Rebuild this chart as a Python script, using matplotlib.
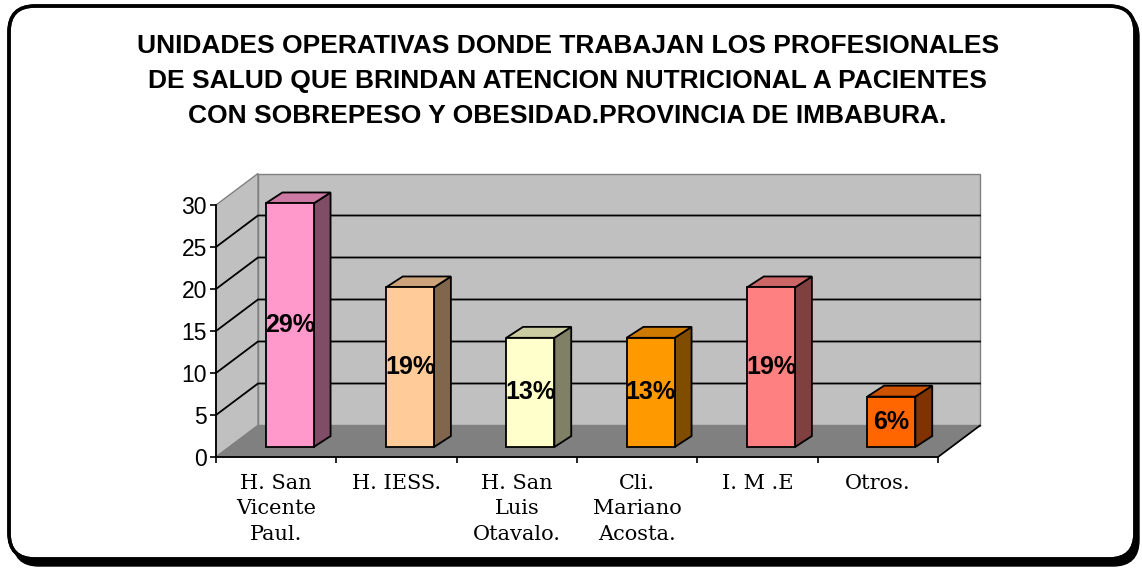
import numpy as np
import matplotlib
matplotlib.use("Agg")
import matplotlib.pyplot as plt
from matplotlib.patches import Polygon, FancyBboxPatch
from matplotlib.colors import LinearSegmentedColormap, to_rgb

titulo = ("UNIDADES OPERATIVAS DONDE TRABAJAN LOS PROFESIONALES\n"
          "DE SALUD QUE BRINDAN ATENCION NUTRICIONAL A PACIENTES\n"
          "CON SOBREPESO Y OBESIDAD.PROVINCIA DE IMBABURA.")
unidades = ["H. San\nVicente\nPaul.", "H. IESS.", "H. San\nLuis\nOtavalo.",
            "Cli.\nMariano\nAcosta.", "I. M .E", "Otros."]
valores = [29, 19, 13, 13, 19, 6]
etiquetas = ["29%", "19%", "13%", "13%", "19%", "6%"]
y_ticks = [0, 5, 10, 15, 20, 25, 30]
colores = ["#FF99CC", "#FFCC99", "#FFFFCC", "#FF9900", "#FF8080", "#FF6600"]

plt.rcParams['font.family'] = 'Liberation Sans'

# profundidad del grafico 3D (en unidades de datos)
DX, DY = 0.349, 3.75
FX, FY = 0.112, 1.19
BX, BY = 0.14, 1.3
BW = 0.4

fig = plt.figure(figsize=(11.42, 5.69), dpi=100)

# fondo con borde redondeado y degradado
ax_bg = fig.add_axes([0, 0, 1, 1], zorder=-1)
ax_bg.set_xlim(0, 1142)
ax_bg.set_ylim(569, 0)
ax_bg.axis('off')
sombra = FancyBboxPatch((13, 11), 1126, 555, boxstyle="round,pad=0,rounding_size=26",
                        facecolor='black', edgecolor='black')
ax_bg.add_patch(sombra)
caja = FancyBboxPatch((9, 6), 1126, 553, boxstyle="round,pad=0,rounding_size=26",
                      facecolor='white', edgecolor='black', linewidth=2.5)
ax_bg.add_patch(caja)
cmap = LinearSegmentedColormap.from_list('fondo', [(0, '#FFFFFF'), (0.47, '#FFFFCC'), (1, '#FFFFFF')])
im = ax_bg.imshow(np.linspace(0, 1, 256).reshape(-1, 1), cmap=cmap, aspect='auto',
                  extent=(9, 1135, 559, 6))
im.set_clip_path(caja)
borde = FancyBboxPatch((9, 6), 1126, 553, boxstyle="round,pad=0,rounding_size=26",
                       facecolor='none', edgecolor='black', linewidth=2.5)
ax_bg.add_patch(borde)

fig.text(0.497, 1 - 81 / 569, titulo, ha='center', va='center', fontsize=19,
         fontweight='bold', linespacing=1.58)

ax = fig.add_axes([216 / 1142, 112 / 569, 722 / 1142, 252 / 569])
ax.set_xlim(0, 6)
ax.set_ylim(0, 30)
ax.patch.set_visible(False)

pared = '#C0C0C0'
ax.add_patch(Polygon([(DX, DY), (6 + DX, DY), (6 + DX, 30 + DY), (DX, 30 + DY)],
                     facecolor=pared, edgecolor='#808080', lw=1, clip_on=False))
ax.add_patch(Polygon([(0, 0), (DX, DY), (DX, 30 + DY), (0, 30)],
                     facecolor=pared, edgecolor='#808080', lw=1, clip_on=False))
ax.add_patch(Polygon([(0, 0), (6, 0), (6 + DX, DY), (DX, DY)],
                     facecolor='#808080', edgecolor='#808080', lw=1, clip_on=False))
for v in y_ticks[1:-1]:
    ax.plot([0, DX, 6 + DX], [v, v + DY, v + DY], color='black', lw=1.3, clip_on=False)
ax.plot([6, 6 + DX], [0, DY], color='black', lw=1.2, clip_on=False)

for i, (v, c, lab) in enumerate(zip(valores, colores, etiquetas)):
    rgb = np.array(to_rgb(c))
    x0 = i + 0.5 - BW / 2 + FX
    y0 = FY
    frente = [(x0, y0), (x0 + BW, y0), (x0 + BW, y0 + v), (x0, y0 + v)]
    lado = [(x0 + BW, y0), (x0 + BW + BX, y0 + BY), (x0 + BW + BX, y0 + v + BY), (x0 + BW, y0 + v)]
    tapa = [(x0, y0 + v), (x0 + BW, y0 + v), (x0 + BW + BX, y0 + v + BY), (x0 + BX, y0 + v + BY)]
    for pts, col in [(lado, rgb * 0.5), (tapa, rgb * 0.8), (frente, rgb)]:
        ax.add_patch(Polygon(pts, facecolor=col, edgecolor='black', lw=1.3,
                             joinstyle='miter', clip_on=False, zorder=3))
    ax.text(x0 + BW / 2, y0 + v / 2, lab, ha='center', va='center', fontsize=18,
            fontweight='bold', zorder=4)

for s in ['top', 'right']:
    ax.spines[s].set_visible(False)
for s in ['left', 'bottom']:
    ax.spines[s].set_linewidth(1.3)
    ax.spines[s].set_zorder(2.6)

ax.set_yticks(y_ticks)
ax.tick_params(axis='y', direction='out', length=4.5, width=1.2, labelsize=16.5, pad=2)
ax.set_xticks(range(7))
ax.set_xticklabels([])
ax.tick_params(axis='x', which='major', direction='out', length=4, width=1.2)
ax.set_xticks([i + 0.5 for i in range(6)], minor=True)
ax.set_xticklabels(unidades, minor=True, fontfamily='DejaVu Serif', fontsize=15,
                   linespacing=1.45)
ax.tick_params(axis='x', which='minor', length=0, pad=12)

fig.savefig('out.png', dpi=100)
